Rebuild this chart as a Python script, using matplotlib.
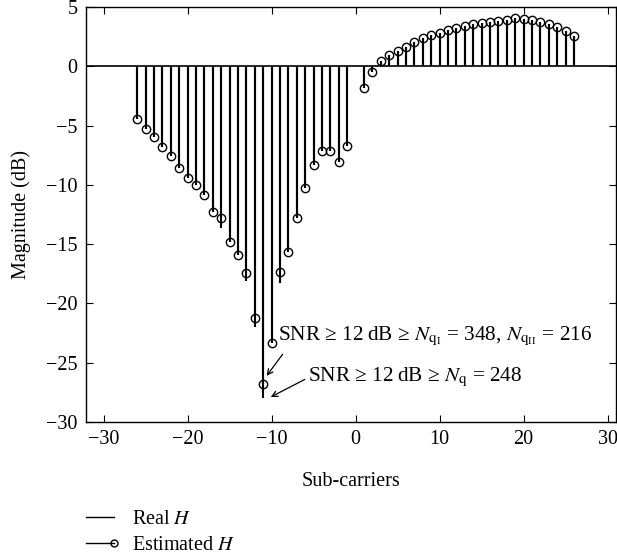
import numpy as np
import matplotlib
matplotlib.use("Agg")
import matplotlib.pyplot as plt
from matplotlib.lines import Line2D

plt.rcParams['font.family'] = ['Liberation Serif', 'DejaVu Serif']
plt.rcParams['mathtext.fontset'] = 'stix'

# sub-carrier indices (DC carrier 0 unused)
subcarriers = [-26, -25, -24, -23, -22, -21, -20, -19, -18, -17, -16, -15, -14,
               -13, -12, -11, -10, -9, -8, -7, -6, -5, -4, -3, -2, -1,
               1, 2, 3, 4, 5, 6, 7, 8, 9, 10, 11, 12, 13,
               14, 15, 16, 17, 18, 19, 20, 21, 22, 23, 24, 25, 26]

# estimated channel magnitude (dB)
est_h = [-4.45, -5.29, -5.97, -6.78, -7.56, -8.54, -9.38, -10.0, -10.84, -12.32, -12.8, -14.82, -15.95,
         -17.42, -21.23, -26.83, -23.33, -17.34, -15.66, -12.8, -10.28, -8.32, -7.11, -7.11, -8.07, -6.7,
         -1.82, -0.45, 0.47, 0.92, 1.26, 1.65, 2.07, 2.41, 2.63, 2.80, 3.03, 3.25, 3.39,
         3.56, 3.64, 3.70, 3.81, 3.89, 4.06, 3.97, 3.89, 3.70, 3.59, 3.31, 2.94, 2.58]

# real channel magnitude (dB)
real_h = [-4.45, -5.29, -5.97, -6.78, -7.56, -8.54, -9.38, -10.0, -10.84, -12.32, -13.6, -14.82, -15.95,
          -18.1, -22.0, -28.0, -23.33, -18.3, -15.66, -12.8, -10.28, -8.32, -7.11, -7.11, -8.07, -6.7,
          -1.82, -0.45, 0.47, 0.92, 1.26, 1.65, 2.07, 2.41, 2.63, 2.80, 3.03, 3.25, 3.39,
          3.56, 3.64, 3.70, 3.81, 3.89, 4.06, 3.97, 3.89, 3.70, 3.59, 3.31, 2.94, 2.58]

FS = 14.5

fig = plt.figure(figsize=(6.17, 5.6), dpi=100)
ax = fig.add_axes([0.1394, 0.2464, 0.8590, 0.7411])

# real H: plain stems
ml, sl, bl = ax.stem(subcarriers, real_h, linefmt='k-', markerfmt=' ', basefmt=' ')
sl.set_linewidth(1.5)

# estimated H: stems with open circles
ml2, sl2, bl2 = ax.stem(subcarriers, est_h, linefmt='k-', markerfmt='ko', basefmt=' ')
sl2.set_linewidth(1.5)
ml2.set_markerfacecolor('none')
ml2.set_markersize(6)
ml2.set_markeredgewidth(1.0)

ax.axhline(0, color='k', lw=1.2)

ax.set_xlim(-32.1, 31)
ax.set_ylim(-30, 5)
ax.set_xticks([-30, -20, -10, 0, 10, 20, 30])
ax.set_yticks([-30, -25, -20, -15, -10, -5, 0, 5])
ax.tick_params(direction='in', top=True, right=True, labelsize=FS, length=5, pad=6)
for s in ax.spines.values():
    s.set_linewidth(1.0)

ax.set_xlabel('Sub-carriers', fontsize=FS, labelpad=16)
ax.set_ylabel('Magnitude (dB)', fontsize=FS, labelpad=11)

ax.text(-9.3, -22.75,
        'SNR \u2265 12\u2009dB \u2265 $N_{\\mathrm{q}_{\\mathrm{I}}}$ = 348, $N_{\\mathrm{q}_{\\mathrm{II}}}$ = 216',
        fontsize=15.3, va='center', ha='left')
ax.text(-5.65, -26.2, 'SNR \u2265 12\u2009dB \u2265 $N_{\\mathrm{q}}$ = 248',
        fontsize=15.3, va='center', ha='left')
ax.annotate('', xy=(-10.8, -26.3), xytext=(-8.5, -24.1),
            arrowprops=dict(arrowstyle='->', color='k', lw=0.9))
ax.annotate('', xy=(-10.4, -28.0), xytext=(-5.76, -26.3),
            arrowprops=dict(arrowstyle='->', color='k', lw=0.9))

h_real = Line2D([0, 1], [0, 0], color='k', lw=1.0)
h_est = Line2D([0, 1], [0, 0], color='k', lw=1.0, marker='o', markersize=5,
               markerfacecolor='none')
leg = fig.legend([h_real, h_est], ['Real $H$', 'Estimated $H$'], loc='upper left',
                 bbox_to_anchor=(0.129, 0.09), frameon=False, fontsize=FS,
                 numpoints=2, handlelength=2.0, handletextpad=0.6, labelspacing=0.35,
                 borderaxespad=0, borderpad=0, handleheight=0.7)
# keep only the right-hand marker on the estimated handle
leg.legend_handles[1].set_markevery([1])

fig.savefig('out.png', dpi=100)
